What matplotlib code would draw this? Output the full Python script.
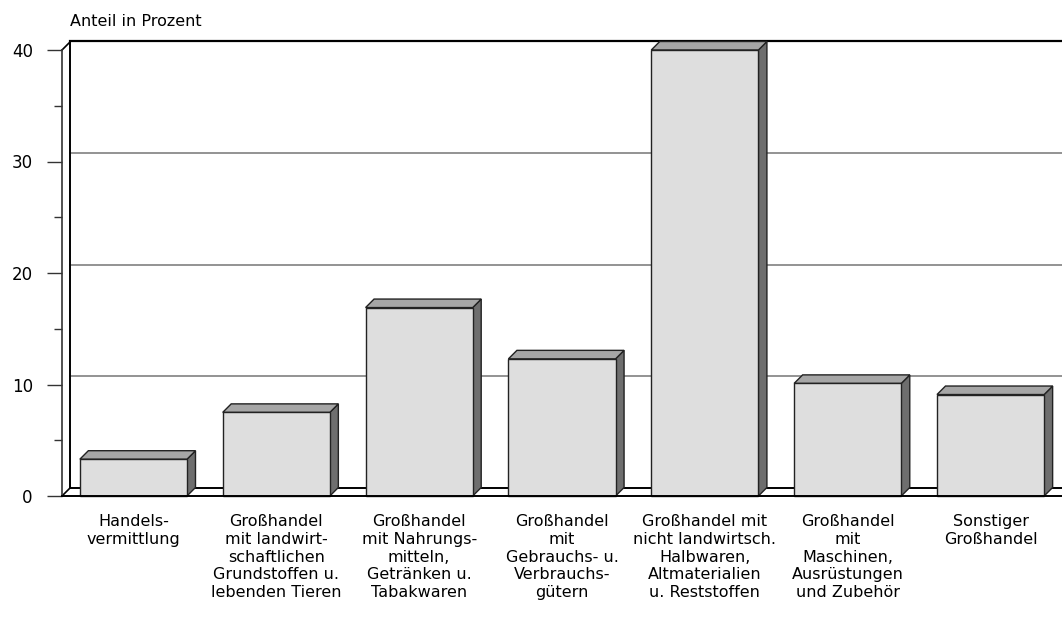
import matplotlib.pyplot as plt
from matplotlib.patches import Polygon, Rectangle

categories = ["Handels-\nvermittlung",
              "Großhandel\nmit landwirt-\nschaftlichen\nGrundstoffen u.\nlebenden Tieren",
              "Großhandel\nmit Nahrungs-\nmitteln,\nGetränken u.\nTabakwaren",
              "Großhandel\nmit\nGebrauchs- u.\nVerbrauchs-\ngütern",
              "Großhandel mit\nnicht landwirtsch.\nHalbwaren,\nAltmaterialien\nu. Reststoffen",
              "Großhandel\nmit\nMaschinen,\nAusrüstungen\nund Zubehör",
              "Sonstiger\nGroßhandel"]
values = [3.3, 7.5, 16.9, 12.3, 40.0, 10.1, 9.1]
yticks = [0, 10, 20, 30, 40]

fig = plt.figure(figsize=(10.62, 6.26), dpi=100)
ax = fig.add_axes([62/1062, 130/626, 1000/1062, 446/626])
ax.set_xlim(-0.5, 6.5)
ax.set_ylim(0, 40)

# depth offset of the pseudo-3d view (data units)
dx, dy = 8.5/143, 8.5/11.15
x0 = -0.5

# back wall + gridlines
for g in [10, 20, 30]:
    ax.plot([x0 + dx, 6.5], [g + dy, g + dy], color="#808080", lw=1.2, clip_on=False, zorder=1)
ax.plot([x0 + dx, 6.5], [40 + dy, 40 + dy], color="black", lw=1.6, clip_on=False, zorder=1)
ax.plot([x0 + dx, 6.5], [dy, dy], color="black", lw=1.4, clip_on=False, zorder=1)
ax.plot([x0 + dx, x0 + dx], [dy, 40 + dy], color="black", lw=1.4, clip_on=False, zorder=1)
ax.plot([x0, x0 + dx], [0, dy], color="black", lw=1.2, clip_on=False, zorder=1)
ax.plot([x0, x0 + dx], [40, 40 + dy], color="black", lw=1.2, clip_on=False, zorder=1)

w = 0.75
for i, v in enumerate(values):
    l, r = i - w/2, i + w/2
    ax.add_patch(Polygon([(r, 0), (r + dx, dy), (r + dx, v + dy), (r, v)], closed=True,
                         facecolor="#6e6e6e", edgecolor="#222222", lw=1.0, zorder=3, clip_on=False))
    ax.add_patch(Polygon([(l, v), (l + dx, v + dy), (r + dx, v + dy), (r, v)], closed=True,
                         facecolor="#a6a6a6", edgecolor="#222222", lw=1.0, zorder=3, clip_on=False))
    ax.add_patch(Rectangle((l, 0), w, v, facecolor="#dedede", edgecolor="#222222",
                           lw=1.0, zorder=4, clip_on=False))

for s in ["top", "right"]:
    ax.spines[s].set_visible(False)
ax.spines["left"].set_color("#333333")
ax.spines["left"].set_linewidth(1.2)
ax.spines["bottom"].set_color("black")
ax.spines["bottom"].set_linewidth(1.4)
ax.spines["bottom"].set_zorder(5)

ax.set_yticks(yticks)
ax.set_yticks([5, 15, 25, 35], minor=True)
ax.tick_params(axis="y", which="major", length=11, width=1.0, color="#333333",
               labelsize=12, pad=10)
ax.tick_params(axis="y", which="minor", length=6, width=1.0, color="#333333")
ax.set_xticks(range(len(categories)))
ax.set_xticklabels(categories, fontsize=11.5, linespacing=1.23)
ax.tick_params(axis="x", length=0, pad=13)

fig.text(70/1062, 1 - 22/626, "Anteil in Prozent", fontsize=11.5, va="center", ha="left")

fig.savefig("out.png", dpi=100)
